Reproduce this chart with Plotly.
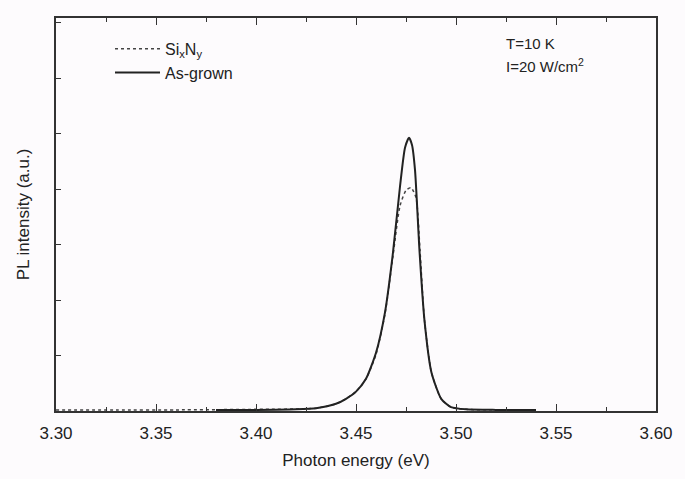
import plotly.graph_objects as go

# As-grown sample (solid)
asgrown_x = [3.38, 3.40, 3.42, 3.43, 3.44, 3.445, 3.45, 3.455, 3.46, 3.4645, 3.4685, 3.472,
             3.4745, 3.4765, 3.478, 3.4795, 3.4818, 3.4842, 3.4877, 3.4926, 3.4975, 3.505, 3.52, 3.54]
asgrown_y = [0.02, 0.02, 0.03, 0.05, 0.13, 0.22, 0.35, 0.58, 1.05, 1.78, 2.86, 4.05,
             4.75, 4.93, 4.80, 4.35, 2.86, 1.65, 0.70, 0.22, 0.07, 0.03, 0.02, 0.02]

# SixNy-capped sample (dotted)
sinx_x = [3.30, 3.33, 3.36, 3.40, 3.43, 3.44, 3.445, 3.45, 3.455, 3.46, 3.4645, 3.4685, 3.472,
          3.475, 3.4775, 3.48, 3.482, 3.4842, 3.4877, 3.4926, 3.4975, 3.505, 3.52, 3.54]
sinx_y = [0.02, 0.02, 0.02, 0.03, 0.05, 0.13, 0.22, 0.35, 0.58, 1.02, 1.75, 2.80, 3.70,
          3.98, 4.03, 3.85, 2.90, 1.65, 0.70, 0.22, 0.07, 0.03, 0.02, 0.02]

x_ticks = [3.30, 3.35, 3.40, 3.45, 3.50, 3.55, 3.60]
x_labels = ["3.30", "3.35", "3.40", "3.45", "3.50", "3.55", "3.60"]
y_ticks = [0, 1, 2, 3, 4, 5, 6, 7]

fig = go.Figure()
fig.add_trace(go.Scatter(x=sinx_x, y=sinx_y, mode="lines", name="Si<sub>x</sub>N<sub>y</sub>",
                         line=dict(color="#444444", width=1.5, dash="dot", shape="spline", smoothing=0.6)))
fig.add_trace(go.Scatter(x=asgrown_x, y=asgrown_y, mode="lines", name="As-grown",
                         line=dict(color="#222222", width=2, shape="spline", smoothing=0.6)))

font_family = "Liberation Sans, Arial, sans-serif"
fig.update_layout(
    width=685, height=479,
    margin=dict(l=56, r=20, t=18, b=68),
    paper_bgcolor="#fdfbfd", plot_bgcolor="#fdfbfd",
    font=dict(family=font_family, size=16, color="#222222"),
    showlegend=True,
    legend=dict(x=0.09, y=0.965, xanchor="left", yanchor="top", bgcolor="rgba(0,0,0,0)",
                font=dict(size=16), itemwidth=45, tracegroupgap=0),
    xaxis=dict(range=[3.30, 3.60], tickvals=x_ticks, ticktext=x_labels,
               ticks="inside", ticklen=7, tickwidth=1.2, tickcolor="#333333",
               minor=dict(dtick=0.025, ticks="inside", ticklen=4, tickcolor="#333333"),
               showline=True, linecolor="#333333", linewidth=1.5, mirror="allticks",
               showgrid=False, zeroline=False, ticklabelstandoff=6,
               tickfont=dict(size=17),
               title=dict(text="Photon energy (eV)", font=dict(size=17), standoff=12)),
    yaxis=dict(range=[0, 7.09], tickvals=y_ticks, showticklabels=False,
               ticks="inside", ticklen=5, tickcolor="#333333",
               showline=True, linecolor="#333333", linewidth=1.5, mirror=True,
               showgrid=False, zeroline=False,
               title=dict(text="PL intensity (a.u.)", font=dict(size=17), standoff=20)),
    annotations=[
        dict(text="T=10 K", x=0.747, y=0.935, xref="paper", yref="paper", xanchor="left",
             yanchor="middle", showarrow=False, font=dict(size=15)),
        dict(text="I=20 W/cm<sup>2</sup>", x=0.747, y=0.88, xref="paper", yref="paper",
             xanchor="left", yanchor="middle", showarrow=False, font=dict(size=15)),
    ],
)

fig.write_html("out.html")
